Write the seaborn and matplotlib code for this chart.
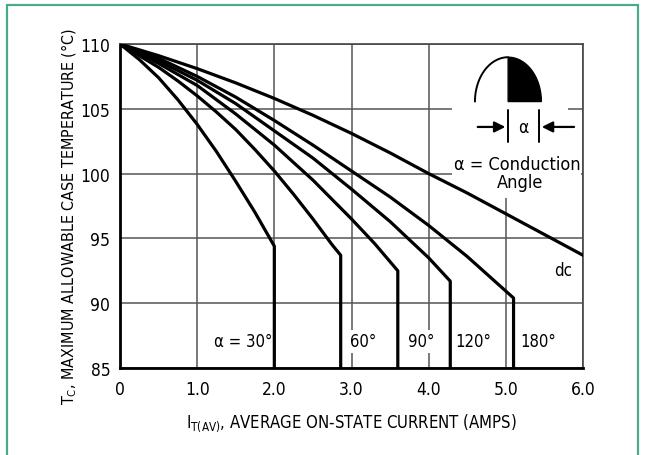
import numpy as np
import pandas as pd
import matplotlib
matplotlib.use("Agg")
import matplotlib.pyplot as plt
import seaborn as sns
from matplotlib.patches import Rectangle, Polygon

# -------------------------------
# Curve data
# -------------------------------
i_30 = [0, 0.25, 0.5, 0.75, 1.0, 1.25, 1.5, 1.75, 2.0, 2.0]
t_30 = [110, 108.8, 107.4, 105.7, 103.8, 101.7, 99.4, 97.0, 94.4, 85]

i_60 = [0, 0.25, 0.5, 0.75, 1.0, 1.25, 1.5, 1.75, 2.0, 2.25, 2.5, 2.75, 2.86, 2.86]
t_60 = [110, 109.1, 108.2, 107.15, 106.0, 104.75, 103.4, 101.85, 100.2, 98.4, 96.5, 94.5, 93.7, 85]

i_90 = [0, 0.5, 1.0, 1.5, 2.0, 2.5, 3.0, 3.3, 3.6, 3.6]
t_90 = [110, 108.5, 106.8, 104.6, 102.2, 99.5, 96.5, 94.6, 92.5, 85]

i_120 = [0, 0.5, 1.0, 1.5, 2.0, 2.5, 3.0, 3.5, 4.0, 4.28, 4.28]
t_120 = [110, 108.7, 107.2, 105.4, 103.3, 101.2, 98.8, 96.3, 93.5, 91.7, 85]

i_180 = [0, 0.5, 1.0, 1.5, 2.0, 2.5, 3.0, 3.5, 4.0, 4.5, 5.1, 5.1]
t_180 = [110, 108.9, 107.5, 105.9, 104.1, 102.2, 100.2, 98.2, 96.0, 93.6, 90.4, 85]

i_dc = [0, 0.5, 1.0, 1.5, 2.0, 2.5, 3.0, 3.5, 4.0, 4.5, 5.0, 5.5, 6.0]
t_dc = [110, 109.1, 108.1, 107.0, 105.8, 104.5, 103.1, 101.6, 100.0, 98.5, 96.9, 95.3, 93.7]

curve_names = ["30", "60", "90", "120", "180", "dc"]
curve_i = [i_30, i_60, i_90, i_120, i_180, i_dc]
curve_t = [t_30, t_60, t_90, t_120, t_180, t_dc]

# curve labels and where they sit
label_text = ["α = 30°", "60°", "90°", "120°", "180°", "dc"]
label_x = [1.60, 3.15, 3.90, 4.58, 5.42, 5.74]
label_y = [87.05, 87.05, 87.05, 87.05, 87.05, 92.6]

x_ticks = [0, 1, 2, 3, 4, 5, 6]
x_tick_labels = ["0", "1.0", "2.0", "3.0", "4.0", "5.0", "6.0"]
y_ticks = [85, 90, 95, 100, 105, 110]

rows = []
for name, xs, ys in zip(curve_names, curve_i, curve_t):
    for k, (xv, yv) in enumerate(zip(xs, ys)):
        rows.append({"curve": name, "order": k, "current": xv, "temp": yv})
df = pd.DataFrame(rows)

# -------------------------------
# Figure
# -------------------------------
sns.set_theme(style="white")
plt.rcParams["font.family"] = ["Liberation Sans Narrow", "DejaVu Sans"]
plt.rcParams["font.stretch"] = "condensed"
plt.rcParams["mathtext.fontset"] = "dejavusans"
for key in ["text.color", "axes.labelcolor", "xtick.color", "ytick.color"]:
    plt.rcParams[key] = "black"

fig = plt.figure(figsize=(6.45, 4.56), dpi=100)
ax = fig.add_axes([120 / 645, 1 - 369 / 456, 463 / 645, 324 / 456])

# green frame round the figure
fig.patches.append(Rectangle((6.5 / 645, -0.2), (638 - 6.5) / 645, 1.2 - 6 / 456,
                             transform=fig.transFigure, fill=False,
                             edgecolor="#4daa88", lw=1.6))

sns.lineplot(data=df, x="current", y="temp", units="curve", estimator=None,
             sort=False, color="black", lw=2.3, ax=ax, zorder=3)

ax.set_xlim(0, 6)
ax.set_ylim(85, 110)
ax.set_xticks(x_ticks)
ax.set_xticklabels(x_tick_labels)
ax.set_yticks(y_ticks)
ax.tick_params(axis="both", length=0, labelsize=12.5, colors="black")
ax.tick_params(axis="x", pad=9)
ax.tick_params(axis="y", pad=7)
ax.grid(True, color="#555555", lw=1.1)
ax.set_axisbelow(True)

for side in ["left", "bottom"]:
    ax.spines[side].set_color("black")
    ax.spines[side].set_linewidth(2.0)
for side in ["top", "right"]:
    ax.spines[side].set_color("#444444")
    ax.spines[side].set_linewidth(1.2)

ax.set_xlabel("I$_{\\mathrm{T(AV)}}$, AVERAGE ON-STATE CURRENT (AMPS)", fontsize=12)
ax.set_ylabel("T$_{\\mathrm{C}}$, MAXIMUM ALLOWABLE CASE TEMPERATURE (°C)", fontsize=11.5)
ax.xaxis.set_label_coords(0.5, -0.135)
ax.yaxis.set_label_coords(-0.088, 0.472)

for txt, lx, ly in zip(label_text, label_x, label_y):
    ax.text(lx, ly, txt, ha="center", va="center", fontsize=12, zorder=1.8,
            bbox=dict(boxstyle="square,pad=0.15", fc="white", ec="none"))

# -------------------------------
# Conduction angle inset
# -------------------------------
# white area behind the inset hides the grid there
ax.add_patch(Rectangle((4.3, 98.1), 1.5, 11.8, fc="white", ec="none", zorder=1))
ax.add_patch(Rectangle((5.8, 99.2), 0.17, 4.8, fc="white", ec="none", zorder=1))

base, peak = 105.56, 108.98
cx, half_w = 5.03, 0.43
t = np.linspace(0, np.pi / 2, 60)
left_x = cx - half_w * np.cos(t)
left_y = base + (peak - base) * np.sin(t)
ax.plot(left_x, left_y, color="black", lw=1.4, zorder=4)
right_x = cx + half_w * np.sin(t)
right_y = base + (peak - base) * np.cos(t)
poly = np.column_stack([np.r_[cx, right_x, cx], np.r_[base, right_y, base]])
ax.add_patch(Polygon(poly, closed=True, fc="black", ec="black", lw=1, zorder=4))

tick_lo, tick_hi = 102.44, 104.87
for xv in [5.03, 5.43]:
    ax.plot([xv, xv], [tick_lo, tick_hi], color="black", lw=1.4, zorder=4)
arrow_y = 103.6
ax.annotate("", xy=(5.03, arrow_y), xytext=(4.60, arrow_y),
            arrowprops=dict(arrowstyle="-|>", color="black", lw=1.6, mutation_scale=16),
            zorder=4)
ax.annotate("", xy=(5.43, arrow_y), xytext=(5.92, arrow_y),
            arrowprops=dict(arrowstyle="-|>", color="black", lw=1.6, mutation_scale=16),
            zorder=4)
ax.text(5.23, arrow_y, "α", ha="center", va="center", fontsize=12.5, zorder=4)
ax.text(5.15, 100.77, "α = Conduction", ha="center", va="center", fontsize=13, zorder=4)
ax.text(5.19, 99.36, "Angle", ha="center", va="center", fontsize=13, zorder=4)

fig.savefig("out.png", dpi=100)
